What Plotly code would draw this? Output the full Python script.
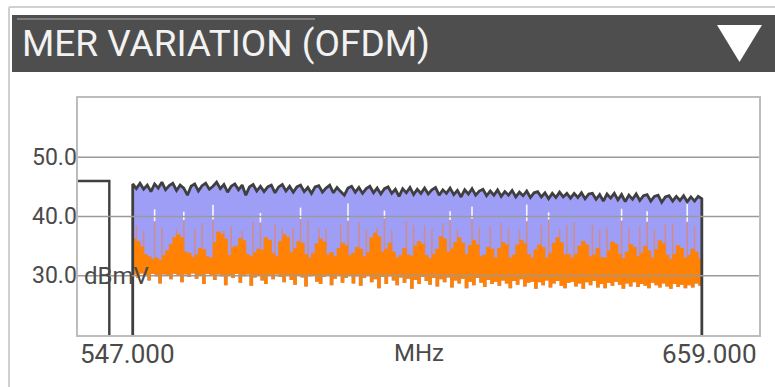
import plotly.graph_objects as go

# ---------------- data ----------------
freq_start = 556.0
freq_step = 0.6

mer_max = [
    45.5, 44.7, 45.6, 44.6, 45.3, 44.2, 45.5, 44.8, 45.8, 44.5, 45.2, 45.6, 44.4, 45.3, 44.8, 43.6, 45.1, 45.5, 44.3, 45.2,
    45.6, 44.6, 45.1, 45.8, 44.7, 45.4, 44.1, 45.1, 45.5, 44.5, 45.3, 43.6, 45.0, 45.4, 44.3, 45.1, 44.2, 45.0, 45.3, 44.0,
    45.0, 45.4, 44.3, 45.1, 44.1, 45.0, 45.3, 44.2, 44.9, 43.9, 45.0, 45.2, 44.1, 44.8, 45.3, 44.0, 44.9, 44.2, 43.6, 44.8,
    45.1, 44.1, 44.9, 43.9, 44.7, 45.1, 44.0, 44.8, 43.8, 44.7, 45.0, 43.9, 44.6, 43.4, 44.7, 44.0, 44.9, 43.7, 44.6, 43.9,
    44.8, 43.8, 44.5, 44.9, 43.6, 44.5, 43.9, 44.8, 43.7, 44.4, 43.3, 44.5, 43.8, 44.7, 43.6, 44.3, 44.6, 43.5, 44.3, 43.6,
    44.5, 43.4, 44.2, 43.6, 44.4, 43.3, 44.1, 43.5, 44.3, 43.2, 44.0, 44.2, 43.3, 44.0, 43.0, 43.9, 43.2, 44.1, 43.3, 43.9,
    43.1, 43.9, 43.2, 44.0, 43.0, 43.8, 43.9, 42.9, 43.7, 42.6, 43.8, 43.1, 43.9, 42.8, 43.7, 42.5, 43.6, 42.9, 43.8, 42.7,
    43.5, 43.7, 42.6, 43.4, 43.6, 42.4, 43.3, 43.5, 42.6, 43.4, 42.7, 43.5, 42.5, 43.3, 42.6, 43.4, 43.0,
]

orange_hi = [
    36.2, 35.8, 34.9, 33.6, 33.2, 32.8, 33.0, 32.6, 33.4, 34.2, 35.3, 36.5, 36.9, 36.4, 34.0, 33.8, 33.1, 33.5, 34.6, 34.4,
    33.2, 33.0, 35.6, 37.4, 37.0, 36.2, 33.4, 34.8, 35.0, 36.3, 35.9, 33.6, 33.2, 33.9, 34.5, 34.3, 36.4, 36.0, 33.8, 33.2,
    35.8, 36.9, 36.5, 33.9, 34.6, 35.8, 35.5, 33.6, 33.0, 33.8, 35.4, 36.2, 35.7, 33.5, 33.9, 33.2, 34.6, 35.5, 35.1, 33.4,
    33.8, 34.8, 34.5, 33.2, 33.9, 36.4, 37.2, 36.6, 34.0, 34.5, 35.5, 34.0, 33.0, 33.4, 34.6, 33.5, 33.3, 35.0, 35.8, 35.3,
    33.4, 32.9, 33.6, 34.5, 36.6, 36.2, 34.0, 34.5, 35.6, 36.4, 35.5, 33.6, 35.1, 36.0, 35.2, 33.2, 33.5, 34.8, 34.5, 33.0,
    34.6, 35.6, 35.2, 33.0, 33.5, 35.2, 36.0, 35.4, 33.6, 33.0, 34.4, 35.2, 34.8, 33.0, 33.8, 35.5, 36.4, 35.6, 33.5, 33.6,
    33.0, 33.6, 35.0, 35.8, 35.2, 33.2, 33.5, 34.6, 33.1, 33.0, 34.2, 35.7, 35.3, 33.6, 32.9, 34.0, 35.3, 34.8, 33.2, 33.8,
    35.0, 34.2, 33.0, 34.4, 35.9, 35.4, 33.5, 32.8, 33.6, 35.1, 34.6, 33.0, 33.4, 34.5, 34.0, 32.9, 33.2,
]

orange_lo = [
    30.2, 29.6, 30.4, 30.1, 29.2, 30.3, 29.9, 28.7, 30.2, 30.0, 29.4, 30.3, 30.1, 28.9, 30.2, 29.8, 30.4, 29.5, 30.0, 28.6,
    30.3, 30.1, 29.3, 30.2, 29.9, 28.4, 30.0, 29.6, 30.3, 28.8, 29.9, 30.2, 28.3, 29.7, 30.1, 29.2, 28.6, 30.0, 29.4, 30.2,
    29.8, 28.9, 30.1, 29.3, 28.5, 30.0, 29.7, 28.2, 29.9, 30.1, 29.0, 28.6, 29.8, 30.0, 28.4, 29.5, 30.1, 28.8, 29.6, 30.0,
    28.7, 29.9, 28.3, 29.6, 30.0, 28.9, 29.4, 27.9, 29.8, 28.6, 29.9, 29.2, 28.4, 29.7, 28.8, 29.5, 27.8, 29.3, 28.6, 29.8,
    29.1, 28.5, 29.6, 28.2, 29.4, 28.9, 29.7, 28.0, 29.2, 28.7, 29.5, 27.9, 29.0, 28.4, 29.6, 28.8, 28.1, 29.3, 28.6, 29.0,
    28.3, 29.2, 28.7, 27.9, 29.1, 28.5, 29.4, 28.2, 28.8, 29.0, 27.8, 28.9, 28.4, 29.2, 28.0, 28.7, 29.1, 28.3, 27.9, 28.8,
    29.0, 28.2, 28.7, 27.8, 28.9, 28.4, 29.1, 28.0, 28.6, 27.9, 28.8, 28.3, 29.0, 28.5, 27.8, 28.7, 28.2, 28.9, 28.1, 28.6,
    28.3, 27.9, 28.8, 28.4, 28.0, 28.7, 28.2, 27.8, 28.6, 28.1, 28.5, 27.9, 28.4, 28.0, 28.7, 28.3, 28.6,
]

# thin spikes (sample index, top value)
spike_idx = [1, 3, 6, 8, 12, 14, 17, 19, 22, 25, 27, 30, 33, 35, 39, 41, 44, 46, 48, 51,
             53, 57, 59, 62, 64, 67, 69, 71, 75, 77, 80, 82, 85, 87, 89, 93, 95, 98, 101, 103,
             106, 108, 112, 114, 117, 119, 121, 126, 128, 130, 134, 136, 139, 141, 143, 146, 148, 152, 154]
spike_top = [38.5, 37.6, 39.2, 38.1, 38.0, 39.4, 37.8, 38.9, 39.5, 37.7, 38.3, 37.6, 39.1, 39.0, 38.7, 37.9, 38.1, 39.6, 39.4, 38.0,
             37.9, 38.6, 39.3, 39.1, 37.8, 38.2, 39.7, 37.7, 39.3, 38.5, 38.4, 37.9, 38.9, 39.4, 37.8, 39.6, 38.2, 38.3, 39.0, 38.0,
             37.7, 39.2, 38.5, 39.5, 37.9, 38.6, 39.0, 38.6, 37.8, 38.1, 39.3, 38.0, 38.4, 39.1, 37.8, 38.7, 38.8, 39.1, 38.3]

# white gaps in the lavender band, sitting on top of some spikes
gap_idx = [6, 14, 22, 35, 46, 59, 69, 87, 93, 108, 114, 134, 141, 152]
gap_hi = [41.2, 40.8, 42.0, 40.6, 41.5, 42.2, 41.0, 40.9, 41.7, 42.0, 40.7, 41.3, 40.9, 42.4]

left_channel_freq = [546.0, 552.15]
left_channel_level = 46.0

x_range = [547.0, 659.0]
y_range = [20.0, 60.0]
y_ticks = [30, 40, 50]
y_ticktext = ["30.0", "40.0", "50.0"]
x_label_left = "547.000"
x_label_right = "659.000"
x_unit = "MHz"
y_unit = "dBmV"
title_text = "MER VARIATION (OFDM)"

# ---------------- build ----------------
freqs = [round(freq_start + freq_step * i, 2) for i in range(len(mer_max))]
spike_lookup = dict(zip(spike_idx, spike_top))

LAVENDER = "#9f9ef6"
ORANGE = "#ff8205"
DARK = "#3f3f3f"
TXT = "#4a4a4a"
FONT = "Roboto"

fig = go.Figure()
common = dict(mode="lines", hoverinfo="skip", showlegend=False)

fig.add_trace(go.Scatter(x=freqs, y=orange_lo, line=dict(width=0, shape="hv"), **common))
fig.add_trace(go.Scatter(x=freqs, y=mer_max, fill="tonexty", fillcolor=LAVENDER,
                         line=dict(width=0), **common))
fig.add_trace(go.Scatter(x=freqs, y=orange_lo, line=dict(width=0, shape="hv"), **common))
fig.add_trace(go.Scatter(x=freqs, y=orange_hi, fill="tonexty", fillcolor=ORANGE,
                         line=dict(width=0.8, color=ORANGE, shape="hv"), **common))

sx, sy = [], []
for i, top in zip(spike_idx, spike_top):
    sx += [freqs[i], freqs[i], None]
    sy += [orange_hi[i], top, None]
fig.add_trace(go.Scatter(x=sx, y=sy, line=dict(width=1.5, color="rgba(238,128,70,0.62)"), **common))

gx, gy = [], []
for i, hi in zip(gap_idx, gap_hi):
    gx += [freqs[i], freqs[i], None]
    gy += [spike_lookup.get(i, orange_hi[i]), hi, None]
fig.add_trace(go.Scatter(x=gx, y=gy, line=dict(width=1.6, color="rgba(255,255,255,0.92)"), **common))

fig.add_trace(go.Scatter(x=[freqs[0]] + freqs + [freqs[-1]],
                         y=[y_range[0]] + mer_max + [y_range[0]],
                         line=dict(width=2.8, color=DARK), **common))

fig.add_trace(go.Scatter(x=[left_channel_freq[0], left_channel_freq[1], left_channel_freq[1]],
                         y=[left_channel_level, left_channel_level, y_range[0]],
                         line=dict(width=2.4, color=DARK), **common))

for yv in y_ticks:
    fig.add_hline(y=yv, line=dict(color="#9a9a9a", width=1.4), layer="above")

# pixel helpers for the decorative panel (plot area: 78..759 x, 98..335 y)
L, R, T, B = 78, 759, 98, 335
def px(x):
    return (x - L) / (R - L)
def py(y):
    return (B - y) / (B - T)

shapes = [
    dict(type="rect", xref="paper", yref="paper", x0=px(12), x1=px(780), y0=py(72), y1=py(15),
         fillcolor="#4e4e4e", line=dict(width=0), layer="below"),
    dict(type="line", xref="paper", yref="paper", x0=px(17), x1=px(315), y0=py(19), y1=py(19),
         line=dict(color="#8c8c8c", width=1.5)),
    dict(type="path", xref="paper", yref="paper",
         path=f"M {px(717)} {py(25)} L {px(762)} {py(25)} L {px(739.5)} {py(62)} Z",
         fillcolor="white", line=dict(width=0)),
    dict(type="line", xref="paper", yref="paper", x0=px(9), x1=px(780), y0=py(7), y1=py(7),
         line=dict(color="#d0d0d0", width=2)),
    dict(type="line", xref="paper", yref="paper", x0=px(9), x1=px(9), y0=py(7), y1=py(390),
         line=dict(color="#d0d0d0", width=2)),
]
for s in shapes:
    fig.add_shape(**s)

fig.add_annotation(text=title_text, xref="paper", yref="paper", x=px(20), y=py(44),
                   xanchor="left", yanchor="middle", showarrow=False,
                   font=dict(family=FONT, size=37, color="#f2f2f2"))
fig.add_annotation(text=x_label_left, xref="paper", yref="paper", x=0, y=0, xanchor="left",
                   yanchor="top", yshift=-2, showarrow=False,
                   font=dict(family=FONT, size=26, color=TXT))
fig.add_annotation(text=x_label_right, xref="paper", yref="paper", x=1, y=0, xanchor="right",
                   yanchor="top", yshift=-2, showarrow=False,
                   font=dict(family=FONT, size=26, color=TXT))
fig.add_annotation(text=x_unit, xref="paper", yref="paper", x=0.5, y=0, xanchor="center",
                   yanchor="top", yshift=-2, showarrow=False,
                   font=dict(family=FONT, size=24, color=TXT))
fig.add_annotation(text=y_unit, xref="paper", yref="y", x=0, y=30, xanchor="left",
                   yanchor="middle", xshift=4, showarrow=False,
                   font=dict(family=FONT, size=24, color=TXT))
for yv, lab in zip(y_ticks, y_ticktext):
    fig.add_annotation(text=lab, xref="paper", yref="y", x=0, y=yv, xanchor="right",
                       yanchor="middle", xshift=1, showarrow=False,
                       font=dict(family=FONT, size=23, color=TXT))

fig.update_layout(
    width=775, height=387,
    margin=dict(l=L, r=775 - R, t=T, b=387 - B),
    paper_bgcolor="white", plot_bgcolor="white",
    font=dict(family=FONT),
    xaxis=dict(range=x_range, showgrid=False, zeroline=False, showticklabels=False,
               showline=True, mirror=True, linecolor="#bdbdbd", linewidth=1.5, ticks=""),
    yaxis=dict(range=y_range, showgrid=False, zeroline=False, showticklabels=False, ticks="",
               showline=True, mirror=True, linecolor="#bdbdbd", linewidth=1.5),
)

fig.write_html("out.html")
